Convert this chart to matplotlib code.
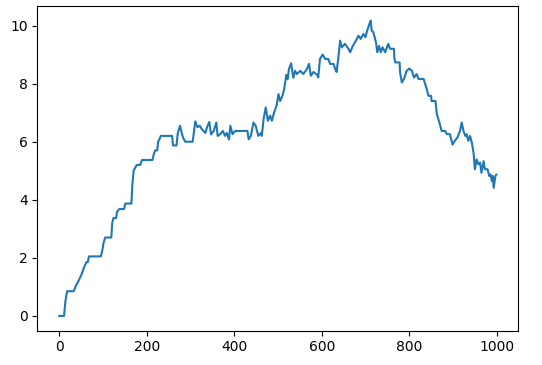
import matplotlib
matplotlib.use("Agg")
import matplotlib.pyplot as plt

# Walk position (step index, value)
steps = [0, 11, 14, 18, 33, 38, 44, 52, 56, 62, 65, 68, 95, 98, 101, 105, 119, 121, 124, 130,
         132, 137, 148, 151, 165, 167, 170, 177, 185, 189, 213, 216, 219, 224, 226, 229, 232, 258, 260, 268,
         271, 276, 280, 283, 288, 305, 311, 316, 321, 326, 334, 339, 343, 347, 353, 359, 362, 368, 374, 379,
         383, 388, 391, 396, 402, 430, 433, 438, 444, 449, 455, 461, 463, 467, 472, 477, 482, 486, 491, 497,
         501, 505, 510, 514, 519, 522, 525, 530, 535, 539, 543, 551, 558, 566, 571, 575, 581, 590, 592, 596,
         602, 608, 615, 619, 627, 631, 634, 638, 642, 646, 653, 661, 665, 671, 676, 684, 689, 695, 700, 704,
         709, 712, 714, 718, 724, 727, 731, 735, 739, 745, 749, 752, 756, 765, 766, 768, 778, 779, 783, 788,
         794, 800, 806, 811, 817, 821, 833, 840, 844, 850, 851, 860, 863, 869, 874, 882, 886, 893, 899, 904,
         910, 916, 920, 924, 928, 931, 935, 939, 943, 947, 950, 954, 958, 962, 965, 970, 973, 979, 983, 986,
         989, 991, 993, 997, 999]
position = [0, 0, 0.5, 0.85, 0.85, 1.04, 1.2, 1.47, 1.65, 1.85, 1.85, 2.05, 2.05, 2.22, 2.5, 2.7, 2.7, 3.2, 3.37, 3.37,
            3.58, 3.68, 3.68, 3.87, 3.87, 4.5, 5.0, 5.2, 5.2, 5.37, 5.37, 5.56, 5.7, 5.7, 6.0, 6.08, 6.2, 6.2, 5.87, 5.87,
            6.3, 6.55, 6.3, 6.14, 6.0, 6.0, 6.7, 6.5, 6.55, 6.43, 6.3, 6.55, 6.68, 6.25, 6.37, 6.66, 6.2, 6.26, 6.37, 6.2,
            6.3, 6.08, 6.55, 6.26, 6.37, 6.37, 6.08, 6.2, 6.66, 6.55, 6.2, 6.3, 6.2, 6.77, 7.18, 6.72, 6.9, 6.72, 7.0, 7.26,
            7.64, 7.4, 7.58, 7.8, 8.3, 8.15, 8.5, 8.7, 8.2, 8.44, 8.33, 8.44, 8.33, 8.5, 8.68, 8.27, 8.4, 8.3, 8.21, 8.85,
            9.0, 8.85, 8.85, 8.68, 8.68, 8.5, 8.4, 8.9, 9.48, 9.25, 9.37, 9.2, 9.08, 9.3, 9.42, 9.65, 9.54, 9.71, 9.6, 9.83,
            10.06, 10.17, 9.83, 9.77, 9.42, 9.08, 9.3, 9.08, 9.25, 9.08, 9.25, 9.37, 9.2, 9.2, 8.9, 8.73, 8.73, 8.39, 8.04, 8.16,
            8.44, 8.52, 8.44, 8.21, 8.33, 8.16, 8.16, 7.81, 7.58, 7.58, 7.4, 7.4, 6.95, 6.66, 6.37, 6.37, 6.26, 6.26, 5.9, 6.03,
            6.14, 6.37, 6.66, 6.37, 6.2, 6.26, 6.03, 6.2, 5.97, 5.62, 5.05, 5.39, 5.22, 5.28, 4.93, 5.33, 5.05, 5.05, 4.82, 4.87,
            4.64, 4.82, 4.41, 4.82, 4.87]

fig = plt.figure(figsize=(5.42, 3.65), dpi=100)
ax = fig.add_axes([0.069, 0.094, 0.887, 0.890])
ax.plot(steps, position)

fig.savefig("out.png", dpi=100)
